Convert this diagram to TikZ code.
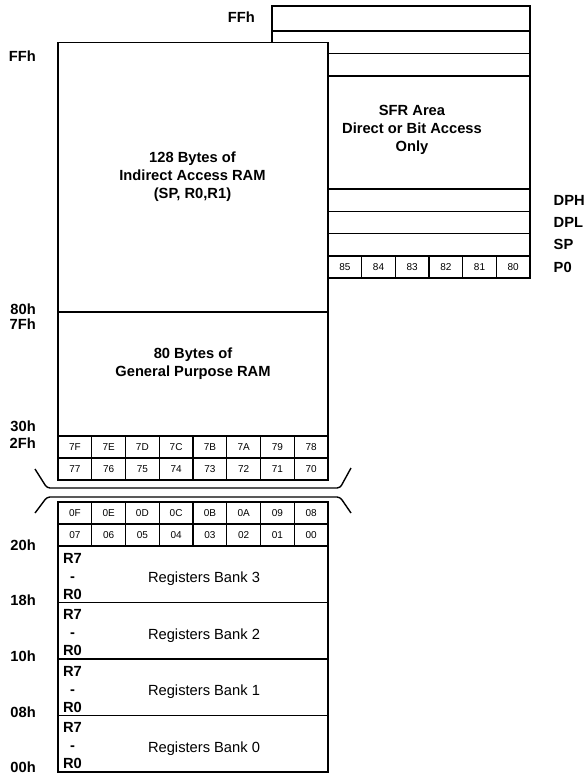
\documentclass[tikz,border=0pt]{standalone}
\usepackage{fontspec}
\setmainfont{Liberation Sans}
\usetikzlibrary{positioning}

\begin{document}
\begin{tikzpicture}[x=1pt, y=-1pt, line width=1.4pt,
    lbl/.style={inner sep=0pt, font=\fontsize{14.7}{18}\selectfont\bfseries},
    addr/.style={lbl, anchor=east},
    regname/.style={lbl, anchor=west},
    areatext/.style={lbl, align=center},
    regs/.style={lbl, align=center},
    banktext/.style={inner sep=0pt, font=\fontsize{14.7}{18}\selectfont},
    bankbox/.style={draw, minimum width=270pt, minimum height=56.5pt, inner sep=0pt},
    cell/.style={draw, minimum width=33.75pt, minimum height=22pt, inner sep=0pt, font=\fontsize{10}{10}\selectfont},
    sfrcell/.style={cell, minimum width=33.67pt}]
    \useasboundingbox (0,0) rectangle (584,775);

    %SFR block behind the RAM
    \draw (272,6) rectangle (530,278);
    \draw (272,31) -- (530,31);
    \draw (272,53.5) -- (530,53.5);
    \draw (272,76) -- (530,76);
    \draw (272,189) -- (530,189);
    \draw (272,211.5) -- (530,211.5);
    \draw (272,233.5) -- (530,233.5);
    \node[areatext] (sfrtxt) at (412,130) {SFR Area\\Direct or Bit Access\\Only};
    \foreach \t [count=\i from 0] in {85,84,83,82,81,80}
        \node[sfrcell] (p\t) at ({328+33.67*(\i+0.5)},267) {\t};

    %upper RAM
    \draw[fill=white] (58,42.5) rectangle (328,480);
    \draw (58,312) -- (328,312);
    \node[areatext] (idata) at (192.5,177) {128 Bytes of\\Indirect Access RAM\\(SP, R0,R1)};
    \node[areatext] (gpram) at (193,364) {80 Bytes of\\General Purpose RAM};
    \foreach \t [count=\i from 0] in {7F,7E,7D,7C,7B,7A,79,78}
        \node[cell] (b\t) at ({58+33.75*(\i+0.5)},447) {\t};
    \foreach \t [count=\i from 0] in {77,76,75,74,73,72,71,70}
        \node[cell] (b\t) at ({58+33.75*(\i+0.5)},469) {\t};

    %break marks
    \draw[rounded corners=3pt] (35,469) -- (47,488) -- (340,488) -- (351,468);
    \draw[rounded corners=3pt] (35,513) -- (47,497) -- (340,497) -- (351,513);

    %lower RAM
    \foreach \t [count=\i from 0] in {0F,0E,0D,0C,0B,0A,09,08}
        \node[cell] (b\t) at ({58+33.75*(\i+0.5)},513) {\t};
    \foreach \t [count=\i from 0] in {07,06,05,04,03,02,01,00}
        \node[cell] (b\t) at ({58+33.75*(\i+0.5)},535) {\t};
    \foreach \b/\yc in {3/574.25, 2/630.75, 1/687.25, 0/743.75} {
        \node[bankbox] (bank\b) at (193,\yc) {};
        \node[regs] (regs\b) at (72.5,\yc+2) {R7\\-\\R0};
        \node[banktext] (btxt\b) at (204,\yc+4.5) {Registers Bank \b};
    }

    %addresses
    \node[addr] (sfrtop) at (255.5,17) {FFh};
    \foreach \t/\yy in {FFh/56, 80h/309, 7Fh/324, 30h/426, 2Fh/443, 20h/545, 18h/600, 10h/656, 08h/712, 00h/767}
        \node[addr] (a\t) at (36.5,\yy) {\t};
    \node[regname] (dph) at (553,200) {DPH};
    \node[regname] (dpl) at (553,222.25) {DPL};
    \node[regname] (sp) at (553,244.75) {SP};
    \node[regname] (pzero) at (553,267) {P0};
\end{tikzpicture}
\end{document}
